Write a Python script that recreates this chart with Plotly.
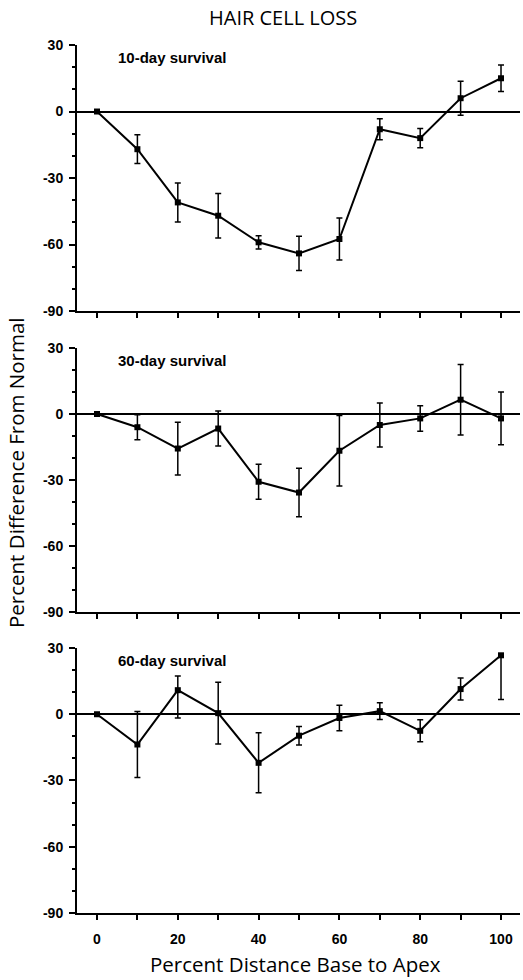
import plotly.graph_objects as go

distance = [0, 10, 20, 30, 40, 50, 60, 70, 80, 90, 100]

day10_mean = [0, -17, -41, -47, -59, -64, -57.5, -8, -12, 6, 15]
day10_err = [0, 6.5, 8.8, 10, 3, 7.7, 9.5, 4.7, 4.3, 7.7, 6]

day30_mean = [0, -6, -15.7, -6.6, -30.8, -35.7, -16.7, -5, -2, 6.5, -2]
day30_err = [0, 5.7, 12, 8, 8, 11, 16, 10, 5.8, 16, 12]

day60_mean = [0, -13.7, 10.9, 0.5, -22, -9.7, -1.7, 1.4, -7.5, 11.4, 26.7]
day60_err_plus = [0, 14.9, 6.4, 14, 13.6, 4.2, 5.8, 3.8, 5, 5, 0]
day60_err_minus = [0, 14.9, 12.6, 14, 13.6, 4.2, 5.8, 3.8, 5, 5, 20]

panel_labels = ["10-day survival", "30-day survival", "60-day survival"]
x_tick_vals = [0, 10, 20, 30, 40, 50, 60, 70, 80, 90, 100]
x_tick_text = ["0", "", "20", "", "40", "", "60", "", "80", "", "100"]
y_tick_vals = [30, 0, -30, -60, -90]
y_tick_text = ["30", "0", "-30", "-60", "-90"]

title_text = "HAIR CELL LOSS"
x_title = "Percent Distance Base to Apex"
y_title = "Percent Difference From Normal"

fig = go.Figure()

series = [
    (day10_mean, dict(type="data", array=day10_err, visible=True)),
    (day30_mean, dict(type="data", array=day30_err, visible=True)),
    (day60_mean, dict(type="data", symmetric=False, array=day60_err_plus,
                      arrayminus=day60_err_minus, visible=True)),
]

axis_ids = ["", "2", "3"]
for i, (mean, err) in enumerate(series):
    err.update(color="black", thickness=1.5, width=3)
    fig.add_trace(go.Scatter(
        x=distance, y=mean, mode="lines+markers",
        line=dict(color="black", width=2),
        marker=dict(symbol="square", size=6, color="black"),
        error_y=err,
        xaxis="x" + axis_ids[i], yaxis="y" + axis_ids[i],
        showlegend=False, name=panel_labels[i],
    ))

domains = [[0.6935, 1.0], [0.3468, 0.6509], [0.0, 0.3053]]

tick_font = dict(family="Liberation Sans, Arial", size=14, color="black", weight="bold")

layout = dict(
    width=523, height=980,
    margin=dict(l=77, r=3, t=45, b=67),
    paper_bgcolor="white", plot_bgcolor="white",
    showlegend=False,
)

for i in range(3):
    xa = "xaxis" + axis_ids[i]
    ya = "yaxis" + axis_ids[i]
    layout[xa] = dict(
        domain=[0, 1], range=[-4.95, 104.7],
        anchor="y" + axis_ids[i],
        tickvals=x_tick_vals, ticktext=x_tick_text,
        showticklabels=(i == 2),
        ticks="outside", ticklen=5, tickwidth=1.5, tickcolor="black",
        showline=True, linecolor="black", linewidth=2,
        showgrid=False, zeroline=False,
        tickfont=tick_font, ticklabelstandoff=7,
    )
    layout[ya] = dict(
        domain=domains[i], range=[-90, 30],
        anchor="x" + axis_ids[i],
        tickvals=y_tick_vals, ticktext=y_tick_text,
        ticks="outside", ticklen=6, tickwidth=1.5, tickcolor="black",
        minor=dict(tickvals=[20, 10, -10, -20, -40, -50, -70, -80],
                   ticks="outside", ticklen=3, tickwidth=1.5, tickcolor="black"),
        showline=True, linecolor="black", linewidth=2,
        showgrid=False,
        zeroline=True, zerolinecolor="black", zerolinewidth=1.5,
        tickfont=tick_font, ticklabelstandoff=3,
    )

fig.update_layout(**layout)

annotations = []
for i in range(3):
    annotations.append(dict(
        text=panel_labels[i], x=4.8, y=24.5,
        xref="x" + axis_ids[i], yref="y" + axis_ids[i],
        xanchor="left", yanchor="middle", showarrow=False,
        font=dict(family="Liberation Sans, Arial", size=15, color="black", weight="bold"),
    ))

plot_h = 980 - 45 - 67
plot_w = 523 - 77 - 3
def px_to_paper_x(px):
    return (px - 77) / plot_w
def px_to_paper_y(py):
    return (980 - 67 - py) / plot_h

annotations.append(dict(
    text=title_text, x=px_to_paper_x(283), y=px_to_paper_y(18),
    xref="paper", yref="paper",
    showarrow=False, xanchor="center", yanchor="middle",
    font=dict(family="Open Sans", size=20, color="black"),
))
annotations.append(dict(
    text=x_title, x=px_to_paper_x(295), y=px_to_paper_y(964),
    xref="paper", yref="paper",
    showarrow=False, xanchor="center", yanchor="middle",
    font=dict(family="Open Sans", size=20.5, color="black"),
))
annotations.append(dict(
    text=y_title, x=px_to_paper_x(16), y=px_to_paper_y(473),
    xref="paper", yref="paper",
    showarrow=False, xanchor="center", yanchor="middle", textangle=-90,
    font=dict(family="Open Sans", size=20.5, color="black"),
))

fig.update_layout(annotations=annotations)

fig.write_html("out.html")
